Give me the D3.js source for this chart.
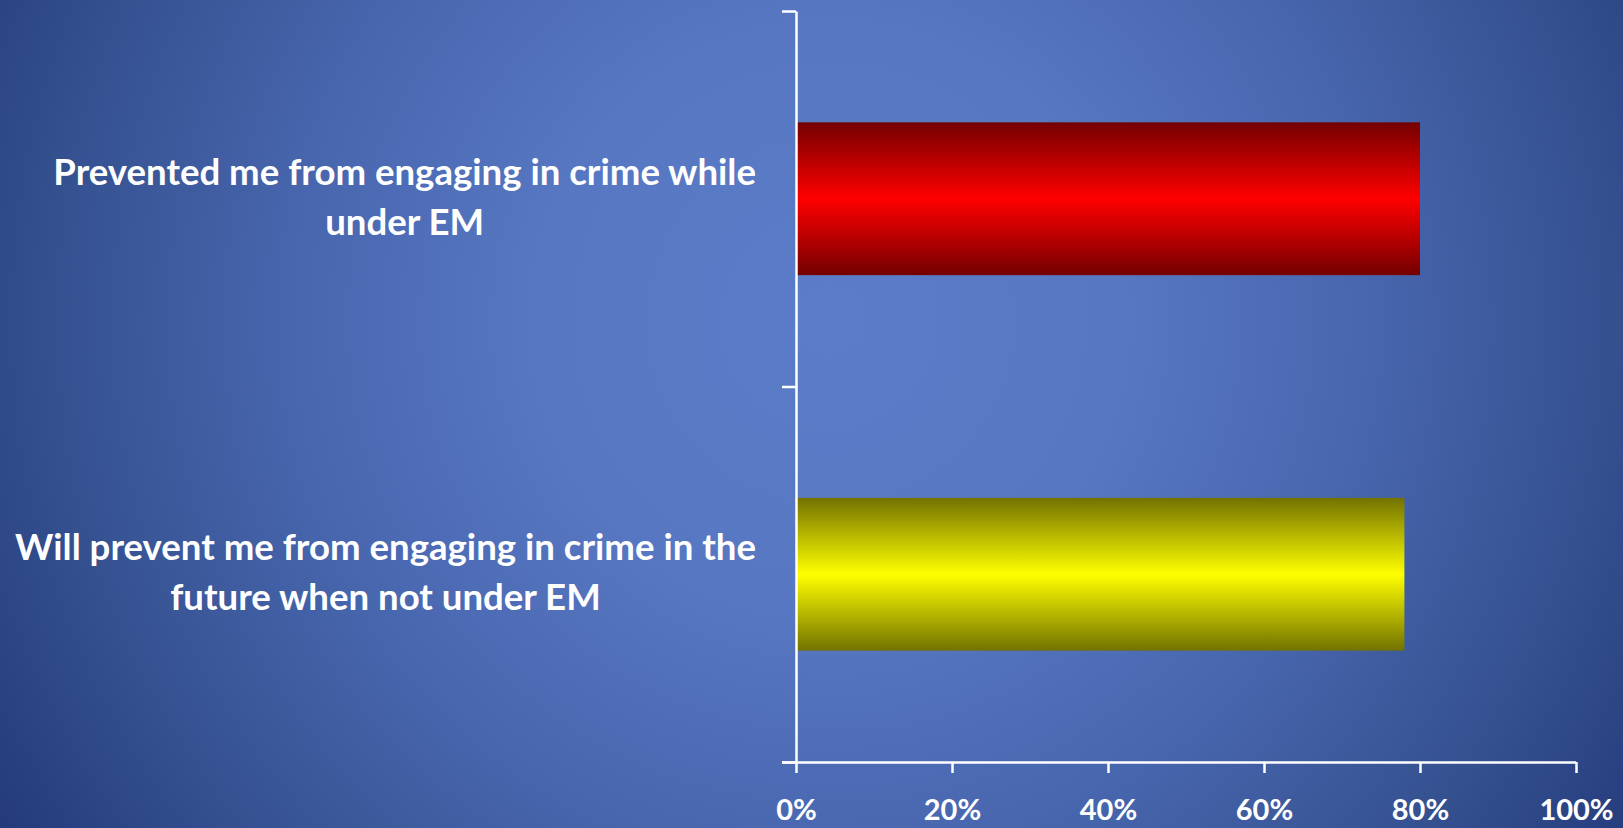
<!DOCTYPE html>
<html>
<head>
<meta charset="utf-8">
<script src="https://cdn.jsdelivr.net/npm/d3@7"></script>
<style>
  html, body { margin: 0; padding: 0; overflow: hidden; background: #3f5ca6; }
  svg { display: block; }
</style>
</head>
<body>
<svg id="chart" width="1623" height="828"></svg>
<script>
// ---- data ----
const categories = [
  ["Prevented me from engaging in crime while", "under EM"],
  ["Will prevent me from engaging in crime in the", "future when not under EM"]
];
const values = [0.80, 0.78];
const barColors = [
  { edge: "#740000", mid: "#ff0000" },
  { edge: "#727200", mid: "#ffff00" }
];
const xTicks = [0, 0.2, 0.4, 0.6, 0.8, 1.0];

// ---- layout ----
const W = 1623, H = 828;
const plot = { left: 796, right: 1576, top: 11, bottom: 762 };

const svg = d3.select("#chart");
const defs = svg.append("defs");

// background radial gradient
const bg = defs.append("radialGradient")
  .attr("id", "bg").attr("gradientUnits", "userSpaceOnUse")
  .attr("cx", 830).attr("cy", 320).attr("r", 980);
[[0, "#5b7cc8"], [0.3, "#5777c2"], [0.55, "#4866ae"], [0.8, "#34508f"], [1, "#23397a"]]
  .forEach(([o, c]) => bg.append("stop").attr("offset", o).attr("stop-color", c));
svg.append("rect").attr("width", W).attr("height", H).attr("fill", "url(#bg)");

// bar gradients
barColors.forEach((bc, i) => {
  const g = defs.append("linearGradient").attr("id", "bar" + i)
    .attr("x1", 0).attr("y1", 0).attr("x2", 0).attr("y2", 1);
  g.append("stop").attr("offset", 0).attr("stop-color", bc.edge);
  g.append("stop").attr("offset", 0.5).attr("stop-color", bc.mid);
  g.append("stop").attr("offset", 1).attr("stop-color", bc.edge);
});

// scales
const x = d3.scaleLinear().domain([0, 1]).range([plot.left, plot.right]);
const y = d3.scaleBand().domain(d3.range(categories.length))
  .range([plot.top, plot.bottom]).paddingInner(0.593).paddingOuter(0.2965);
const yBound = d3.scaleLinear().domain([0, categories.length]).range([plot.top, plot.bottom]);

// bars
svg.append("g").selectAll("rect").data(values).join("rect")
  .attr("x", x(0))
  .attr("y", (d, i) => y(i))
  .attr("width", d => x(d) - x(0))
  .attr("height", y.bandwidth())
  .attr("fill", (d, i) => `url(#bar${i})`);

// x axis
const xAxis = svg.append("g")
  .attr("transform", `translate(0,${plot.bottom})`)
  .call(d3.axisBottom(x).tickValues(xTicks).tickFormat(d3.format(".0%"))
    .tickSize(11).tickSizeOuter(11));
xAxis.select(".domain").attr("stroke", "#fff").attr("stroke-width", 2.5)
  .attr("d", `M${plot.left - 14},0.5H${plot.right}`);
xAxis.selectAll(".tick line").attr("stroke", "#fff").attr("stroke-width", 2.5);
xAxis.selectAll(".tick text")
  .attr("y", 58).attr("dy", 0)
  .attr("fill", "#fff")
  .style("font-family", "Lato, 'Open Sans', sans-serif")
  .style("font-weight", "bold")
  .style("font-size", "29px");

// y axis (ticks at category boundaries)
const yAxis = svg.append("g")
  .attr("transform", `translate(${plot.left},0)`)
  .call(d3.axisLeft(yBound).ticks(categories.length).tickFormat("").tickSize(14).tickSizeOuter(0));
yAxis.select(".domain").attr("stroke", "#fff").attr("stroke-width", 2.5);
yAxis.selectAll(".tick line").attr("stroke", "#fff").attr("stroke-width", 2.5);

// category labels
const labelRight = 756, lineGap = 50, fontSize = 36.6;
const lg = svg.append("g")
  .style("font-family", "Lato, 'Open Sans', sans-serif")
  .style("font-weight", "bold")
  .style("font-size", fontSize + "px")
  .attr("fill", "#fff");
categories.forEach((lines, i) => {
  const cy = y(i) + y.bandwidth() / 2;
  const t = lg.append("text").attr("text-anchor", "middle");
  lines.forEach((ln, j) => {
    t.append("tspan").attr("y", cy + 11 + (j - (lines.length - 1) / 2) * lineGap).text(ln);
  });
  let maxW = 0;
  t.selectAll("tspan").each(function () { maxW = Math.max(maxW, this.getComputedTextLength()); });
  t.selectAll("tspan").attr("x", labelRight - maxW / 2);
});
</script>
</body>
</html>
